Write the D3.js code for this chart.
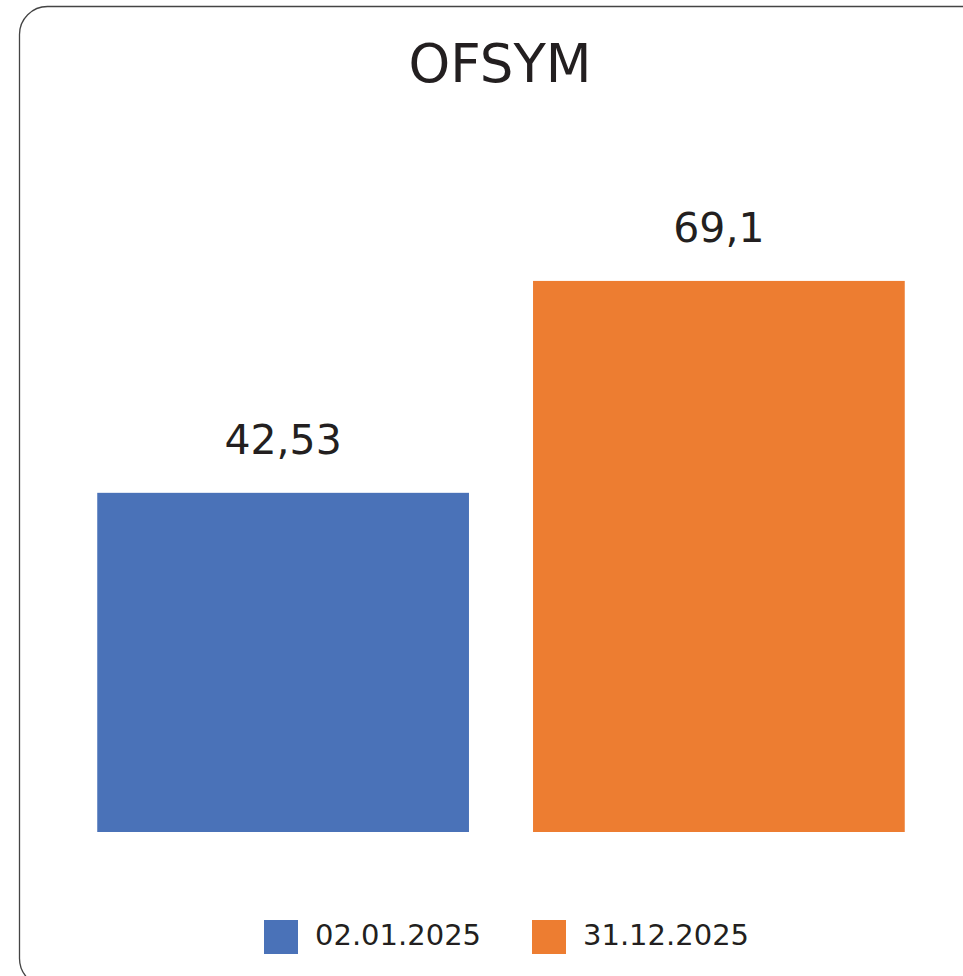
<!DOCTYPE html>
<html>
<head>
<meta charset="utf-8">
<script src="https://cdn.jsdelivr.net/npm/d3@7"></script>
<style>
  html, body { margin: 0; padding: 0; background: #fff; }
  svg { display: block; }
</style>
</head>
<body>
<svg id="chart" width="963" height="976"></svg>
<script>
const title = "OFSYM";
const categories = ["02.01.2025", "31.12.2025"];
const values = [42.53, 69.1];
const valueLabels = ["42,53", "69,1"];
const colors = ["#4a72b8", "#ed7d31"];
const yDomain = [0, 80];

const svg = d3.select("#chart");
const FONT = "'DejaVu Sans', sans-serif";

svg.append("rect")
  .attr("x", 19.5).attr("y", 6.5)
  .attr("width", 1000).attr("height", 980)
  .attr("rx", 28).attr("ry", 28)
  .attr("fill", "#fff")
  .attr("stroke", "#444").attr("stroke-width", 1.3);

svg.append("text")
  .attr("x", 500).attr("y", 82)
  .attr("text-anchor", "middle")
  .attr("font-family", FONT).attr("font-size", 53)
  .attr("fill", "#231f20")
  .text(title);

const x = d3.scaleBand().domain(categories).range([65, 937]).paddingInner(0.147).paddingOuter(0.074);
const y = d3.scaleLinear().domain(yDomain).range([832, 194]);

const g = svg.append("g");
g.selectAll("rect.bar").data(categories).enter().append("rect")
  .attr("class", "bar")
  .attr("x", d => x(d))
  .attr("width", x.bandwidth())
  .attr("y", (d, i) => y(values[i]))
  .attr("height", (d, i) => y(0) - y(values[i]))
  .attr("fill", (d, i) => colors[i]);

g.selectAll("text.val").data(categories).enter().append("text")
  .attr("class", "val")
  .attr("x", d => x(d) + x.bandwidth() / 2)
  .attr("y", (d, i) => y(values[i]) - 39)
  .attr("text-anchor", "middle")
  .attr("font-family", FONT).attr("font-size", 41)
  .attr("fill", "#231f20")
  .text((d, i) => valueLabels[i]);

const legendX = [264, 532];
const leg = svg.append("g");
categories.forEach((c, i) => {
  leg.append("rect")
    .attr("x", legendX[i]).attr("y", 920)
    .attr("width", 34).attr("height", 34)
    .attr("fill", colors[i]);
  leg.append("text")
    .attr("x", legendX[i] + 51).attr("y", 945)
    .attr("font-family", FONT).attr("font-size", 29)
    .attr("fill", "#231f20")
    .text(c);
});
</script>
</body>
</html>
